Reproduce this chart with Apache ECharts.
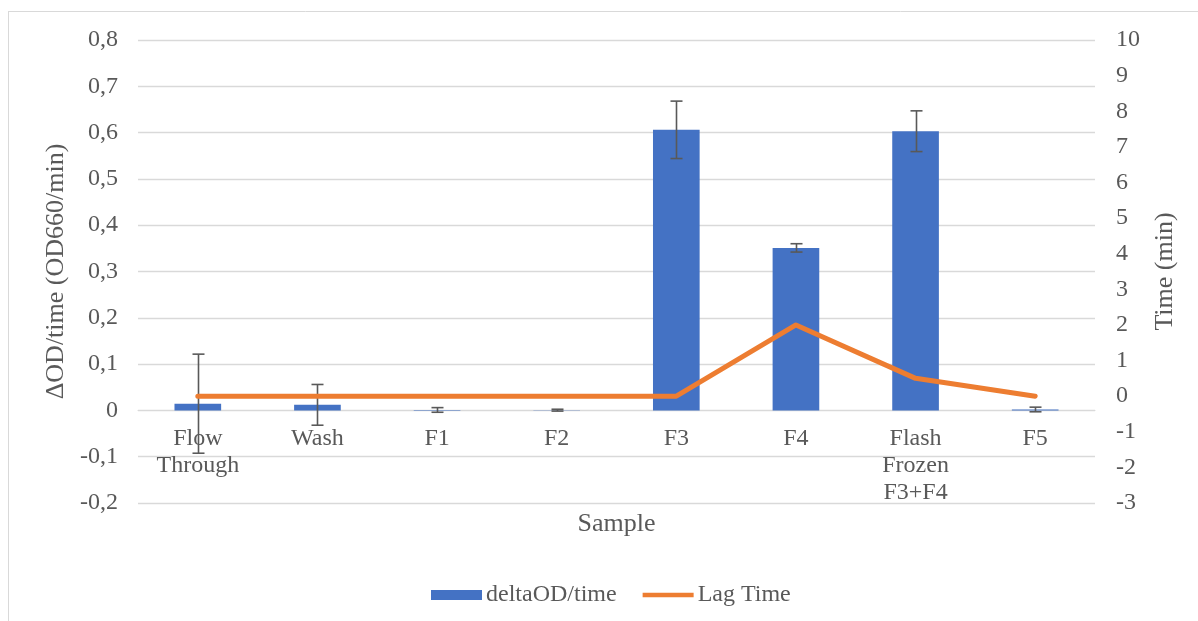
<!DOCTYPE html>
<html>
<head>
<meta charset="utf-8">
<script src="https://cdn.jsdelivr.net/npm/echarts@6/dist/echarts.min.js"></script>
<style>
html,body{margin:0;padding:0;background:#fff;}
#chart{width:1198px;height:621px;}
</style>
</head>
<body>
<div id="chart"></div>
<script>
const categories = ['Flow\nThrough', 'Wash', 'F1', 'F2', 'F3', 'F4', 'Flash\nFrozen\nF3+F4', 'F5'];
const deltaOD = [0.0145, 0.012, 0.001, 0.0005, 0.606, 0.351, 0.603, 0.002];
const deltaErr = [0.107, 0.044, 0.005, 0.002, 0.062, 0.009, 0.044, 0.005];
const lagTime = [0, 0, 0, 0, 0, 2.0, 0.5, 0];

const font = 'Liberation Serif, Times New Roman, serif';
const textColor = '#595959';

const gridTop = 40, gridBottom = 118, chartH = 621;
const yMin = -0.2, yMax = 0.8;
// place the category axis on the zero line of the left value axis
const plotH = chartH - gridTop - gridBottom;
const zeroOffset = -plotH * (0 - yMin) / (yMax - yMin);

const chart = echarts.init(document.getElementById('chart'));
const errData = deltaOD.map((v, i) => [i, v - deltaErr[i], v + deltaErr[i]]);

chart.setOption({
  animation: false,
  backgroundColor: '#fff',
  textStyle: { fontFamily: font },
  graphic: [
    { type: 'line', shape: { x1: 8.5, y1: 11, x2: 8.5, y2: 621 }, style: { stroke: '#d9d9d9', lineWidth: 1 } },
    { type: 'line', shape: { x1: 8, y1: 11.5, x2: 1198, y2: 11.5 }, style: { stroke: '#d9d9d9', lineWidth: 1 } }
  ],
  grid: { left: 138, right: 103, top: gridTop, bottom: gridBottom, containLabel: false, outerBoundsMode: 'none' },
  legend: {
    bottom: 9,
    left: 426,
    itemGap: 26,
    itemWidth: 51,
    itemHeight: 10,
    textStyle: { fontFamily: font, fontSize: 24, color: textColor, padding: [0, 0, 0, -1] },
    data: [
      { name: 'deltaOD/time', icon: 'rect' },
      { name: 'Lag Time', icon: 'path://M0,0 L56,0 L56,5 L0,5 Z' }
    ]
  },
  xAxis: {
    type: 'category',
    data: categories,
    position: 'bottom',
    offset: zeroOffset,
    name: 'Sample',
    nameLocation: 'middle',
    nameGap: 100,
    nameTextStyle: { fontFamily: font, fontSize: 26, color: textColor },
    axisLine: { onZero: false, lineStyle: { color: '#d9d9d9' } },
    axisTick: { show: false },
    axisLabel: { fontFamily: font, fontSize: 24, color: textColor, lineHeight: 27, margin: 15, interval: 0 }
  },
  yAxis: [
    {
      type: 'value',
      min: yMin, max: yMax, interval: 0.1,
      name: 'ΔOD/time (OD660/min)',
      nameLocation: 'middle',
      nameGap: 63,
      nameTextStyle: { fontFamily: font, fontSize: 26, color: textColor },
      axisLine: { show: false },
      axisTick: { show: false },
      splitLine: { lineStyle: { color: '#d9d9d9', width: 1.3 } },
      axisLabel: {
        fontFamily: font, fontSize: 24, color: textColor, margin: 20,
        formatter: v => (Math.round(v * 10) / 10).toString().replace('.', ',')
      }
    },
    {
      type: 'value',
      min: -3, max: 10, interval: 1,
      name: 'Time (min)',
      nameLocation: 'middle',
      nameGap: 57,
      nameTextStyle: { fontFamily: font, fontSize: 26, color: textColor },
      axisLine: { show: false },
      axisTick: { show: false },
      splitLine: { show: false },
      axisLabel: { fontFamily: font, fontSize: 24, color: textColor, margin: 21 }
    }
  ],
  series: [
    {
      name: 'deltaOD/time',
      type: 'bar',
      yAxisIndex: 0,
      data: deltaOD,
      barWidth: '39%',
      itemStyle: { color: '#4472C4' },
      z: 2
    },
    {
      name: 'errors',
      type: 'custom',
      yAxisIndex: 0,
      data: errData,
      z: 3,
      renderItem: function (params, api) {
        const x = api.value(0);
        const lo = api.coord([x, api.value(1)]);
        const hi = api.coord([x, api.value(2)]);
        const cx = Math.round(lo[0]) + 0.5;
        const hw = 6;
        const st = { stroke: '#595959', lineWidth: 1.6 };
        return {
          type: 'group',
          children: [
            { type: 'line', shape: { x1: cx, y1: lo[1], x2: cx, y2: hi[1] }, style: st },
            { type: 'line', shape: { x1: cx - hw, y1: lo[1], x2: cx + hw, y2: lo[1] }, style: st },
            { type: 'line', shape: { x1: cx - hw, y1: hi[1], x2: cx + hw, y2: hi[1] }, style: st }
          ]
        };
      }
    },
    {
      name: 'Lag Time',
      type: 'line',
      yAxisIndex: 1,
      data: lagTime,
      symbol: 'none',
      lineStyle: { color: '#ED7D31', width: 5, cap: 'round', join: 'round' },
      itemStyle: { color: '#ED7D31' },
      z: 4
    }
  ]
});
</script>
</body>
</html>
